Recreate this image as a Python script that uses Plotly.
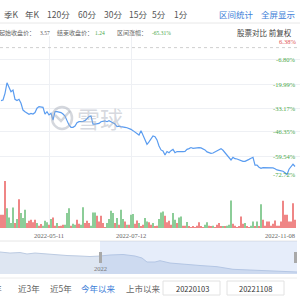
import plotly.graph_objects as go

# ---------------- data ----------------
start_close = "3.57"
end_close = "1.24"
change_pct = "-65.31%"

toolbar_left = ["季K", "年K", "120分", "60分", "30分", "15分", "5分", "1分"]
toolbar_left_x = [2, 23, 45, 76, 102, 127, 150, 172]
toolbar_right = ["区间统计", "全屏显示"]
range_buttons = ["近3年", "近5年", "今年以来", "上市以来"]
date_inputs = ["20220103", "20221108"]

pct_ticks = [6.38, -6.80, -19.99, -33.17, -46.35, -59.54, -72.72]

date_tick_idx = [24, 65, 147]
date_tick_text = ["2022-05-11", "2022-07-12", "2022-11-08"]

# interval change (%) per trading day, visible window
close_pct = [
    -29.1, -28.8, -25.1, -19.3, -21.8, -24.2, -23.3, -28.4, -29.1, -28.4,
    -30.6, -34.3, -35.2, -35.7, -36.6, -36.1, -36.5, -35.7, -33.3, -32.4,
    -32.4, -32.8, -36.5, -35.2, -37.0, -36.1, -39.8, -35.2, -35.2, -35.4,
    -35.7, -36.5, -37.6, -40.1, -42.5, -43.8, -43.8, -43.1, -41.2, -40.7,
    -40.7, -40.5, -40.1, -39.0, -37.9, -37.6, -42.0, -42.0, -41.8, -41.6,
    -40.7, -40.5, -40.3, -40.7, -40.1, -40.7, -41.2, -42.0, -43.4, -43.1,
    -43.4, -43.8, -43.8, -44.0, -44.3, -44.9, -45.6, -46.3, -47.1, -48.0,
    -45.6, -48.0, -49.8, -53.1, -51.8, -49.8, -48.5, -48.9, -50.7, -54.0,
    -56.2, -56.8, -59.0, -57.1, -57.7, -56.6, -55.9, -57.7, -57.1, -57.1,
    -57.3, -57.1, -57.0, -55.9, -55.5, -54.9, -55.3, -55.1, -54.8, -54.9,
    -55.1, -55.5, -56.2, -57.3, -57.9, -58.1, -57.9, -57.3, -56.8, -55.9,
    -55.5, -56.4, -57.7, -58.6, -59.9, -61.7, -60.3, -61.0, -61.2, -61.7,
    -62.1, -62.5, -62.5, -61.7, -61.4, -60.8, -60.3, -64.5, -64.5, -65.7,
    -66.3, -65.9, -65.9, -65.9, -65.7, -65.7, -66.1, -66.5, -67.2, -67.4,
    -67.6, -67.9, -68.7, -69.8, -66.8, -65.4, -64.0, -65.3,
]

volume = [
    40, 40, 142, 60, 32, 15, 62, 15, 27, 87, 45, 30, 55, 15, 22, 25, 17, 25, 15, 7,
    12, 7, 22, 17, 10, 27, 32, 7, 15, 5, 7, 10, 10, 45, 60, 7, 13, 10, 25, 13,
    10, 63, 15, 22, 15, 7, 47, 47, 37, 20,
    37, 15, 3, 15, 27, 52, 45, 15, 30, 10, 55, 27, 20, 10, 10, 40, 42, 13, 23, 15,
    5, 10, 30, 20, 17, 10, 15, 5, 7, 27, 47, 50, 37, 17, 22, 10, 45, 25, 15, 32,
    35, 7, 7, 18, 5, 3, 5, 3, 7, 17,
    5, 3, 10, 17, 7, 5, 7, 3, 10, 15, 5, 5, 5, 7, 10, 83, 13, 7, 3, 5,
    35, 13, 15, 5, 3, 7, 20, 5, 20, 5, 72, 25, 7, 20, 20, 7, 13, 23, 7, 7,
    20, 82, 40, 40, 20, 20, 75, 25,
]
# r = up day, g = down day
direction = (
    "rrrggggrgr" "gggrrrrrgr" "rgggrgrrgr" "rrgggrggrr" "ggrrrgggrr"
    "rrrggggrgr" "ggrgrggrrg" "rrggrrgrrg" "ggrrrrggrg" "grrgrrrrrr"
    "rrggrrgrrr" "rgrgggrrrr" "rrgrrggrgr" "grrrrrrrrr" "rrrrrrrr"
)

nav_day = [0, 10, 20, 27, 35, 50, 60, 67, 80, 90, 100, 110, 123, 135, 142, 147,
           155, 160, 170, 180, 190, 200, 217, 233, 250, 267, 283, 297]
nav_close = [3.98, 3.84, 3.91, 3.71, 3.84, 3.64, 3.57, 3.50, 3.43, 3.36, 3.43, 3.57,
             3.64, 3.43, 3.16, 2.61, 2.61, 2.79, 2.47, 2.34, 2.20, 2.13, 1.97, 1.61,
             1.51, 1.42, 1.28, 1.24]
nav_year_day = 100
nav_sel = [100, 297]

# ---------------- helpers ----------------
W = H = 300
CJK = "Noto Sans CJK SC"
SERIF = "Liberation Serif"
BLUE_TXT = "#3d80d8"
GREEN = "#4aa84a"
RED = "#e05555"


def px(x):
    return x / W


def py(y):
    return 1 - y / H


annotations = []


def txt(text, x, y, size, color, family=CJK, xanchor="left", yanchor="middle", xref="paper", yref="paper", **kw):
    annotations.append(dict(text=text, x=x, y=y, xref=xref, yref=yref, showarrow=False,
                            xanchor=xanchor, yanchor=yanchor,
                            font=dict(size=size, color=color, family=family), **kw))


fig = go.Figure()

fig.add_trace(go.Scatter(
    x=list(range(len(close_pct))), y=close_pct, mode="lines",
    line=dict(color="#5a9cf0", width=1.2), xaxis="x", yaxis="y", hoverinfo="skip"))

bar_colors = ["#ef8686" if d == "r" else "#8ccd98" for d in direction]
fig.add_trace(go.Bar(
    x=list(range(len(volume))), y=volume, marker=dict(color=bar_colors, line=dict(width=0)),
    xaxis="x2", yaxis="y2", hoverinfo="skip"))

fig.add_trace(go.Scatter(
    x=nav_day, y=nav_close, mode="lines", fill="tozeroy",
    line=dict(color="#bccbe2", width=1), fillcolor="#dee6f2",
    xaxis="x3", yaxis="y3", hoverinfo="skip"))

GRID = "#eef0f4"
ax_common = dict(showticklabels=False, ticks="", zeroline=False, showline=False)

# toolbar
for t, x in zip(toolbar_left, toolbar_left_x):
    txt(t, px(x), py(14), 8.5, "#555")
txt(toolbar_right[0], px(217), py(14), 8.5, BLUE_TXT)
txt(toolbar_right[1], px(259), py(14), 8.5, BLUE_TXT)

# info row
txt("起始收盘价：", px(-3), py(33), 6, "#666")
txt(start_close, px(38), py(33), 5.5, "#555", family=SERIF)
txt("结束收盘价：", px(55), py(33), 6, "#666")
txt(end_close, px(93), py(33), 5.5, GREEN, family=SERIF)
txt("区间涨幅：", px(115), py(33), 6, "#666")
txt(change_pct, px(150), py(33), 5.5, GREEN, family=SERIF)
txt("股票对比 前复权", px(294), py(33), 7.5, "#444", xanchor="right")

# y labels
for i, v in enumerate(pct_ticks):
    ya = "top" if i == 0 else ("bottom" if i == len(pct_ticks) - 1 else "middle")
    col = RED if v > 0 else GREEN
    txt(f"{v:.2f}%", px(298), v, 6.5, col, family=SERIF, xanchor="right", yanchor=ya, yref="y")

# date labels
for i, (d, t) in enumerate(zip(date_tick_idx, date_tick_text)):
    last = i == len(date_tick_idx) - 1
    txt(t, d, py(235), 6.5, "#666", family=SERIF, xanchor="right" if last else "center",
        xref="x", xshift=2 if last else 0)

# navigator label
txt("2022", nav_year_day, py(268), 6.5, "#777", family=SERIF, xanchor="center", xref="x3")

# bottom row
txt("近1年", px(4), py(288), 8.5, "#666", xanchor="right")
for t, x in zip(range_buttons, [16, 48, 79, 124]):
    txt(t, px(x), py(288), 8.5, BLUE_TXT if t == "今年以来" else "#666")
txt(date_inputs[0], px(192), py(288), 7.5, "#333", xanchor="center")
txt(date_inputs[1], px(255), py(288), 7.5, "#333", xanchor="center")

# watermark
txt("雪球", px(100), py(118), 23, "rgba(170,176,188,0.48)", xanchor="center", yanchor="middle")

shapes = [
    dict(type="line", xref="paper", yref="paper", x0=0, x1=1, y0=py(23), y1=py(23),
         line=dict(color="#e8e8e8", width=1)),
    dict(type="line", xref="paper", yref="y", x0=0, x1=1, y0=0, y1=0,
         line=dict(color="#cfcfcf", width=1, dash="dot")),
    # navigator frame
    dict(type="line", xref="paper", yref="paper", x0=0, x1=px(297), y0=py(241), y1=py(241),
         line=dict(color="#e6e6e6", width=1)),
    dict(type="rect", xref="x3", yref="paper", x0=nav_sel[0], x1=nav_sel[1], y0=py(274), y1=py(241),
         fillcolor="rgba(155,183,235,0.25)", line=dict(width=0)),
    dict(type="rect", xref="x3", yref="paper", x0=nav_sel[0] - 1, x1=nav_sel[0] + 2, y0=py(263), y1=py(252),
         fillcolor="#a9a9a9", line=dict(width=0)),
    dict(type="rect", xref="x3", yref="paper", x0=nav_sel[1] - 3, x1=nav_sel[1], y0=py(263), y1=py(252),
         fillcolor="#a9a9a9", line=dict(width=0)),
    # bottom row frame
    dict(type="line", xref="paper", yref="paper", x0=0, x1=px(297), y0=py(278), y1=py(278),
         line=dict(color="#ececec", width=1)),
    dict(type="rect", xref="paper", yref="paper", x0=px(163), x1=px(220), y0=py(295), y1=py(281),
         line=dict(color="#e2e2e2", width=1), fillcolor="rgba(0,0,0,0)"),
    dict(type="rect", xref="paper", yref="paper", x0=px(227), x1=px(284), y0=py(295), y1=py(281),
         line=dict(color="#e2e2e2", width=1), fillcolor="rgba(0,0,0,0)"),
    # watermark logo
    dict(type="circle", xref="paper", yref="paper", x0=px(52), x1=px(72), y0=py(129), y1=py(107),
         line=dict(color="rgba(170,176,188,0.5)", width=2.5)),
    dict(type="path", xref="paper", yref="paper",
         path=f"M {px(55)} {py(115)} L {px(61)} {py(121)} L {px(70)} {py(111)}",
         line=dict(color="rgba(170,176,188,0.5)", width=2.5)),
]

fig.update_layout(
    width=W, height=H, margin=dict(l=0, r=0, t=0, b=0),
    paper_bgcolor="white", plot_bgcolor="white", showlegend=False, bargap=0.3,
    xaxis=dict(domain=[0, 1], range=[-0.5, 149.5], anchor="y", tickvals=date_tick_idx[:2],
               showgrid=True, gridcolor=GRID, **ax_common),
    yaxis=dict(domain=[py(180), py(36)], range=[pct_ticks[-1], pct_ticks[0]], anchor="x",
               tickvals=pct_ticks, showgrid=True, gridcolor=GRID, **ax_common),
    xaxis2=dict(domain=[0, 1], range=[-0.5, 149.5], anchor="y2", matches="x",
                tickvals=date_tick_idx[:2], showgrid=True, gridcolor=GRID, **ax_common),
    yaxis2=dict(domain=[py(228), py(180)], range=[0, 145], anchor="x2", showgrid=False, **ax_common),
    xaxis3=dict(domain=[0, 1], range=[0, 300], anchor="y3", showgrid=False, **ax_common),
    yaxis3=dict(domain=[py(274), py(241)], range=[0.966, 5.49], anchor="x3", showgrid=False, **ax_common),
    annotations=annotations, shapes=shapes,
)

fig.write_html("out.html", config={"displayModeBar": False})
